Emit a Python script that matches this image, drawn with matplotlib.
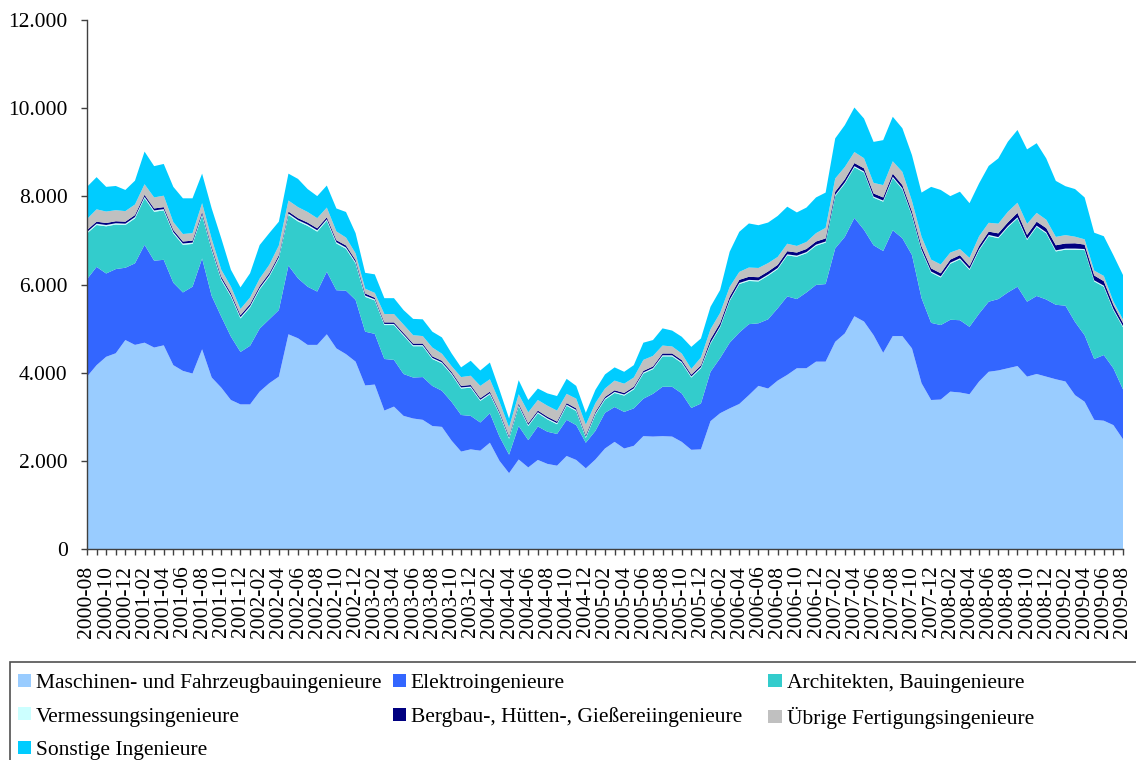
import matplotlib
matplotlib.use("Agg")
import matplotlib.pyplot as plt
from matplotlib.patches import Rectangle
from matplotlib.ticker import FuncFormatter, MultipleLocator
import pandas as pd

plt.rcParams['font.family'] = ['Liberation Serif', 'DejaVu Serif']

months = list(pd.period_range('2000-08', '2009-08', freq='M').strftime('%Y-%m'))

# values per month
maschinen = [3910, 4170, 4360, 4440, 4740, 4630, 4680, 4570, 4620, 4170,
             4040, 3980, 4530, 3890, 3660, 3380, 3280, 3280, 3570, 3760,
             3910, 4870, 4780, 4630, 4630, 4870, 4550, 4420, 4250, 3710,
             3730, 3140, 3230, 3020, 2960, 2930, 2790, 2770, 2460, 2210,
             2260, 2230, 2410, 2000, 1720, 2030, 1850, 2020, 1930, 1890,
             2110, 2020, 1830, 2030, 2280, 2430, 2280, 2340, 2560, 2550,
             2560, 2550, 2430, 2250, 2260, 2900, 3080, 3190, 3290, 3490,
             3700, 3640, 3820, 3950, 4100, 4100, 4250, 4250, 4700, 4890,
             5280, 5160, 4850, 4450, 4830, 4830, 4550, 3760, 3380, 3390,
             3570, 3550, 3510, 3800, 4020, 4050, 4100, 4150, 3910, 3970,
             3910, 3850, 3800, 3490, 3340, 2930, 2910, 2810, 2490]

elektro = [2210, 2230, 1890, 1910, 1640, 1850, 2220, 1970, 1940, 1870,
           1780, 1970, 2060, 1850, 1610, 1440, 1190, 1330, 1430, 1450,
           1510, 1560, 1360, 1320, 1210, 1420, 1320, 1440, 1400, 1220,
           1150, 1170, 1060, 950, 930, 970, 910, 820, 880, 830,
           760, 640, 670, 550, 420, 760, 620, 760, 730, 720,
           820, 790, 580, 650, 810, 790, 830, 850, 850, 970,
           1120, 1130, 1100, 950, 1040, 1120, 1250, 1490, 1620, 1610,
           1420, 1570, 1640, 1780, 1570, 1720, 1740, 1760, 2120, 2190,
           2230, 2080, 2040, 2310, 2400, 2220, 2120, 1930, 1750, 1690,
           1630, 1640, 1530, 1540, 1590, 1620, 1720, 1800, 1700, 1770,
           1750, 1690, 1720, 1660, 1510, 1380, 1490, 1290, 1130]

architekten = [1040, 950, 1070, 1010, 970, 1020, 1060, 1110, 1120, 1120,
               1080, 970, 980, 1040, 830, 910, 760, 870, 890, 970,
               1170, 1150, 1290, 1380, 1360, 1160, 1060, 950, 830, 790,
               760, 770, 790, 870, 710, 700, 610, 620, 620, 600,
               640, 490, 430, 510, 360, 450, 320, 300, 280, 220,
               320, 320, 110, 370, 300, 320, 370, 430, 570, 560,
               690, 690, 690, 690, 800, 640, 700, 950, 1100, 980,
               950, 990, 890, 930, 960, 890, 890, 940, 1190, 1210,
               1150, 1300, 1080, 1120, 1190, 1110, 890, 1080, 1140, 1080,
               1270, 1380, 1290, 1440, 1490, 1380, 1480, 1550, 1400, 1570,
               1500, 1210, 1270, 1640, 1930, 1760, 1550, 1320, 1410]

vermessung = [30, 30, 30, 30, 30, 30, 30, 30, 30, 30,
              30, 30, 30, 30, 30, 30, 30, 30, 30, 30,
              30, 30, 30, 30, 30, 30, 30, 30, 30, 30,
              25, 25, 25, 25, 25, 25, 25, 25, 25, 25,
              25, 25, 25, 25, 25, 25, 25, 25, 25, 25,
              25, 25, 25, 25, 25, 25, 25, 25, 25, 25,
              25, 25, 25, 25, 25, 25, 25, 25, 25, 25,
              25, 25, 25, 25, 25, 25, 25, 25, 25, 25,
              25, 25, 25, 25, 25, 25, 25, 25, 25, 25,
              25, 25, 25, 25, 25, 25, 25, 25, 25, 25,
              25, 25, 25, 25, 25, 25, 25, 25, 25]

bergbau = [45, 45, 45, 45, 45, 45, 45, 45, 45, 45,
           45, 45, 45, 45, 45, 45, 45, 45, 45, 45,
           45, 45, 45, 45, 45, 45, 45, 45, 45, 45,
           35, 35, 35, 35, 35, 35, 35, 35, 35, 35,
           35, 35, 35, 35, 35, 35, 35, 35, 35, 35,
           35, 35, 35, 35, 35, 35, 35, 35, 35, 35,
           40, 40, 40, 40, 40, 70, 70, 70, 70, 70,
           70, 70, 70, 70, 70, 70, 70, 70, 70, 70,
           70, 70, 70, 70, 70, 70, 70, 70, 70, 70,
           70, 70, 60, 70, 75, 85, 85, 100, 90, 90,
           95, 115, 115, 120, 100, 110, 100, 90, 70]

uebrige = [250, 280, 260, 250, 240, 240, 240, 250, 260, 180,
           170, 170, 200, 180, 160, 150, 140, 150, 170, 190,
           220, 250, 250, 240, 230, 220, 200, 180, 150, 110,
           110, 190, 190, 190, 190, 170, 200, 160, 130, 200,
           210, 280, 280, 220, 200, 210, 250, 240, 250, 250,
           210, 220, 240, 200, 190, 220, 210, 210, 250, 240,
           180, 160, 150, 130, 180, 230, 230, 220, 180, 210,
           210, 190, 180, 170, 150, 160, 190, 240, 300, 280,
           250, 230, 240, 280, 280, 300, 240, 220, 200, 200,
           160, 140, 190, 220, 200, 220, 240, 230, 250, 200,
           190, 190, 190, 150, 120, 110, 120, 80, 80]

sonstige = [730, 730, 560, 550, 480, 540, 740, 710, 720, 800,
            810, 790, 670, 690, 710, 380, 490, 550, 760, 720,
            540, 610, 640, 520, 500, 500, 520, 580, 460, 360,
            420, 360, 360, 330, 370, 380, 360, 370, 290, 220,
            340, 350, 380, 270, 200, 320, 280, 260, 280, 330,
            340, 290, 270, 300, 320, 300, 270, 280, 390, 360,
            390, 360, 380, 500, 430, 510, 520, 800, 910, 1000,
            970, 920, 930, 840, 760, 780, 810, 800, 910, 950,
            1010, 900, 930, 1020, 1010, 990, 1040, 1000, 1650, 1690,
            1280, 1300, 1240, 1200, 1290, 1480, 1590, 1650, 1690, 1580,
            1390, 1270, 1110, 1080, 950, 860, 900, 1050, 1010]

labels = ['Maschinen- und Fahrzeugbauingenieure', 'Elektroingenieure',
          'Architekten, Bauingenieure', 'Vermessungsingenieure',
          'Bergbau-, Hütten-, Gießereiingenieure', 'Übrige Fertigungsingenieure',
          'Sonstige Ingenieure']
colors = ['#99CCFF', '#3366FF', '#33CCCC', '#CCFFFF', '#000080', '#C0C0C0', '#00CCFF']

fig = plt.figure(figsize=(11.36, 7.6), dpi=100)
ax = fig.add_axes([87/1136, 1-549/760, (1123-87)/1136, (549-20)/760])

x = list(range(len(months)))
polys = ax.stackplot(x, maschinen, elektro, architekten, vermessung, bergbau,
                     uebrige, sonstige, colors=colors, labels=labels, linewidth=0)

ax.set_xlim(0, len(months)-1)
ax.set_ylim(0, 12000)
ax.yaxis.set_major_locator(MultipleLocator(2000))
ax.yaxis.set_major_formatter(FuncFormatter(lambda v, p: f"{v:,.0f}".replace(",", ".")))

ax.set_xticks(x[::2])
ax.set_xticklabels(months[::2], rotation=90, va='top', ha='center')
ax.set_xticks(x, minor=True)

for s in ['top', 'right']:
    ax.spines[s].set_visible(False)
for s in ['left', 'bottom']:
    ax.spines[s].set_color('#404040')
    ax.spines[s].set_linewidth(1)

ax.tick_params(axis='both', which='both', direction='out', length=4, width=1,
               color='#404040', labelsize=15.5)
ax.tick_params(axis='x', which='both', pad=8)
ax.tick_params(axis='y', pad=10)

# legend: three columns placed like the original (row-wise order)
columns = [([0, 3, 6], 17.5), ([1, 4], 392.5), ([2, 5], 768.5)]
for idx, xpos in columns:
    leg = fig.legend([polys[i] for i in idx], [labels[i] for i in idx],
                     loc='upper left', bbox_to_anchor=(xpos/1136, 1-674/760),
                     frameon=False, fontsize=15.5, handlelength=0.65, handleheight=0.56,
                     handletextpad=0.2, labelspacing=0.66,
                     borderpad=0, borderaxespad=0)

frame = Rectangle((10/1136, -0.1), 1.2, 0.1 + (760-662)/760, transform=fig.transFigure,
                  fill=False, edgecolor='#505050', linewidth=1.2)
fig.add_artist(frame)

fig.savefig('out.png', dpi=100)
